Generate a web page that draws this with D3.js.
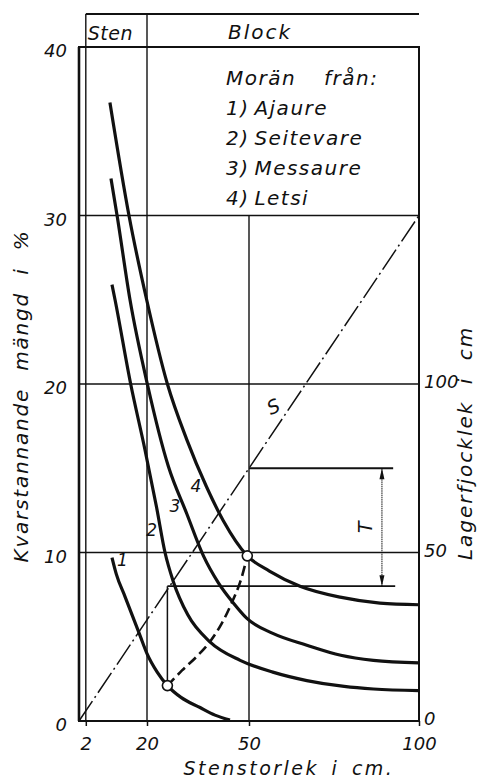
<!DOCTYPE html>
<html>
<head>
<meta charset="utf-8">
<script src="https://cdn.jsdelivr.net/npm/d3@7"></script>
<style>
  body { margin: 0; background: #fff; }
  text { font-family: "DejaVu Sans", sans-serif; font-style: oblique; fill: #111; }
</style>
</head>
<body>
<div id="chart"></div>
<script>
// curve values: [stone size cm, remaining %]
const curve1 = [[9.7,9.7],[11,8.7],[13.5,7.4],[17.9,5.1],[20,4.0],[23,2.9],[26,2.1],[30,1.4],[35.6,0.8],[40,0.35],[44.4,0.05]];
const curve2 = [[9.7,25.9],[10.6,25.0],[15.2,20],[19.4,16.1],[22.8,12.7],[25.3,10.0],[27.7,8.3],[32,6.3],[38.5,4.7],[47.4,3.6],[57,2.9],[67,2.4],[78,2.05],[86.6,1.9],[100,1.8]];
const curve3 = [[9.4,32.2],[11.2,30],[15,25],[20.1,20],[26.3,15.1],[31.7,12.3],[36.6,9.8],[41,8.2],[45.4,7.0],[49.3,6.1],[57,5.2],[67,4.5],[77,3.9],[86.6,3.6],[100,3.45]];
const curve4 = [[9.1,36.7],[14.7,30],[19.9,25.0],[26,20],[31.7,16.7],[37.5,13.9],[42.4,11.9],[49.5,9.8],[56,8.9],[65,8.0],[76.8,7.35],[88.5,7.0],[100,6.9]];
const curves = [curve1, curve2, curve3, curve4];
const curveLabels = [
  {n: "1", x: 12.8, y: 9.2},
  {n: "2", x: 21.4, y: 11.0},
  {n: "3", x: 28.2, y: 12.4},
  {n: "4", x: 34.4, y: 13.6}
];
const dashed = [[26,2.1],[30.3,3.0],[34.5,3.8],[38.5,4.7],[42,5.8],[44.9,7.0],[47.5,8.3],[49.5,9.8]];
const markers = [[26,2.1],[49.5,9.8]];
const sLine = [[0,0],[100,30]];
const tLevels = [15, 8];     // T, between these levels (%)
const tStart = [50, 26];     // where the T lines leave the S line
const tEnd = [92.4, 93];
const tArrowX = 89.1;

const xTicks = [2, 20, 50, 100];
const yTicks = [0, 10, 20, 30, 40];
const yRightTicks = [0, 50, 100];
const hGrid = [10, 20, 30];
const legendLines = ["Morän från:", "1) Ajaure", "2) Seitevare", "3) Messaure", "4) Letsi"];

const W = 489, H = 782;
const svg = d3.select("#chart").append("svg")
              .attr("width", W)
              .attr("height", H);

const x = d3.scaleLinear().domain([0, 100]).range([79, 419]);
const y = d3.scaleLinear().domain([0, 40]).range([721, 47]);
const yR = d3.scaleLinear().domain([0, 200]).range([721, 47]);
const headTop = 14;

// grid
svg.selectAll("line.hgrid")
   .data(hGrid)
   .enter().append("line")
   .attr("x1", x(0)).attr("x2", x(100))
   .attr("y1", d => y(d)).attr("y2", d => y(d))
   .attr("stroke", "#111").attr("stroke-width", 1.6);

svg.append("line")   // x = 2, up into the header
   .attr("x1", x(2)).attr("x2", x(2))
   .attr("y1", y(0)).attr("y2", headTop)
   .attr("stroke", "#111").attr("stroke-width", 1.4);
svg.append("line")   // x = 20, splits Sten / Block
   .attr("x1", x(20)).attr("x2", x(20))
   .attr("y1", y(0)).attr("y2", headTop)
   .attr("stroke", "#111").attr("stroke-width", 1.4);
svg.append("line")
   .attr("x1", x(50)).attr("x2", x(50))
   .attr("y1", y(0)).attr("y2", y(30))
   .attr("stroke", "#111").attr("stroke-width", 1.4);

// header top line
svg.append("line")
   .attr("x1", x(2)).attr("x2", x(100))
   .attr("y1", headTop).attr("y2", headTop)
   .attr("stroke", "#111").attr("stroke-width", 1.8);

// frame
svg.append("rect")
   .attr("x", x(0)).attr("y", y(40))
   .attr("width", x(100) - x(0)).attr("height", y(0) - y(40))
   .attr("fill", "none").attr("stroke", "#111").attr("stroke-width", 2);
svg.append("line")
   .attr("x1", x(0)).attr("x2", x(0))
   .attr("y1", y(0)).attr("y2", y(40))
   .attr("stroke", "#111").attr("stroke-width", 2.6);

// axes
const axisFont = g => g.selectAll("text")
                       .style("font-size", "18px")
                       .style("font-family", "DejaVu Sans")
                       .style("font-style", "oblique")
                       .attr("fill", "#111");

svg.append("g")
   .attr("transform", `translate(0, ${y(0)})`)
   .call(d3.axisBottom(x).tickValues(xTicks).tickSize(5).tickPadding(11).tickFormat(d3.format("d")))
   .call(g => g.select(".domain").remove())
   .call(g => g.selectAll("line").attr("stroke", "#111").attr("stroke-width", 1.5))
   .call(axisFont);

svg.append("g")
   .attr("transform", `translate(${x(0)}, 0)`)
   .call(d3.axisLeft(y).tickValues(yTicks).tickSize(0).tickPadding(12).tickFormat(d3.format("d")))
   .call(g => g.select(".domain").remove())
   .call(g => g.selectAll("text").attr("dy", "0.55em"))
   .call(axisFont);

svg.append("g")
   .attr("transform", `translate(${x(100)}, 0)`)
   .call(d3.axisRight(yR).tickValues(yRightTicks).tickSize(0).tickPadding(5).tickFormat(d3.format("d")))
   .call(g => g.select(".domain").remove())
   .call(g => g.selectAll("text").attr("dy", "0.2em"))
   .call(axisFont);

// header text
svg.append("text").attr("x", x(2) + 2).attr("y", 40)
   .style("font-size", "19px").attr("letter-spacing", "0.5px").text("Sten");
svg.append("text").attr("x", 228).attr("y", 39)
   .style("font-size", "20px").attr("letter-spacing", "2px").text("Block");

// legend
svg.selectAll("text.legend")
   .data(legendLines)
   .enter().append("text")
   .attr("class", "legend")
   .attr("x", 226)
   .attr("y", (d, i) => 85 + i * 30)
   .style("font-size", "20px")
   .attr("letter-spacing", "1.5px")
   .attr("word-spacing", (d, i) => i === 0 ? "20px" : "-3px")
   .text(d => d);

// S line and T construction
const line = d3.line().x(d => x(d[0])).y(d => y(d[1]));
svg.append("path")
   .datum(sLine)
   .attr("d", line)
   .attr("fill", "none").attr("stroke", "#111").attr("stroke-width", 1.5)
   .attr("stroke-dasharray", "24,4,2,4");
svg.append("text")
   .attr("transform", `translate(${x(58)}, ${y(18.3)}) rotate(-25)`)
   .attr("text-anchor", "middle")
   .style("font-size", "19px").text("S");

svg.selectAll("line.tlevel")
   .data(tLevels)
   .enter().append("line")
   .attr("x1", (d, i) => x(tStart[i])).attr("x2", (d, i) => x(tEnd[i]))
   .attr("y1", d => y(d)).attr("y2", d => y(d))
   .attr("stroke", "#111").attr("stroke-width", 1.8);

svg.append("line")   // riser from marker up to the S line
   .attr("x1", x(markers[0][0])).attr("x2", x(markers[0][0]))
   .attr("y1", y(markers[0][1])).attr("y2", y(tLevels[1]))
   .attr("stroke", "#111").attr("stroke-width", 1.5);

svg.append("line")
   .attr("x1", x(tArrowX)).attr("x2", x(tArrowX))
   .attr("y1", y(tLevels[0])).attr("y2", y(tLevels[1]))
   .attr("stroke", "#111").attr("stroke-width", 1)
   .attr("stroke-dasharray", "1.5,0.7");
const ax = x(tArrowX);
svg.selectAll("path.arrow")
   .data(tLevels)
   .enter().append("path")
   .attr("d", (d, i) => {
       const tip = y(d), s = i === 0 ? 1 : -1;
       return `M${ax},${tip} L${ax - 2.5},${tip + s * 11} L${ax + 2.5},${tip + s * 11} Z`;
   })
   .attr("fill", "#111");
svg.append("text")
   .attr("transform", `translate(${x(tArrowX) - 10}, ${y((tLevels[0] + tLevels[1]) / 2)}) rotate(-90)`)
   .attr("text-anchor", "middle")
   .style("font-size", "19px").text("T");

// curves
const smooth = d3.line().x(d => x(d[0])).y(d => y(d[1])).curve(d3.curveMonotoneX);
svg.selectAll("path.curve")
   .data(curves)
   .enter().append("path")
   .attr("class", "curve")
   .attr("d", smooth)
   .attr("fill", "none").attr("stroke", "#111").attr("stroke-width", 3.2);

svg.append("path")
   .datum(dashed)
   .attr("d", d3.line().x(d => x(d[0])).y(d => y(d[1])).curve(d3.curveCatmullRom))
   .attr("fill", "none").attr("stroke", "#111").attr("stroke-width", 2.6)
   .attr("stroke-dasharray", "10,5");

svg.selectAll("circle.mark")
   .data(markers)
   .enter().append("circle")
   .attr("cx", d => x(d[0])).attr("cy", d => y(d[1]))
   .attr("r", 5)
   .attr("fill", "#fff").attr("stroke", "#111").attr("stroke-width", 1.6);

svg.selectAll("text.clabel")
   .data(curveLabels)
   .enter().append("text")
   .attr("x", d => x(d.x)).attr("y", d => y(d.y))
   .attr("text-anchor", "middle")
   .style("font-size", "17px")
   .text(d => d.n);

// axis titles
svg.append("text")
   .attr("x", 289).attr("y", 775)
   .attr("text-anchor", "middle")
   .attr("letter-spacing", "2.5px")
   .attr("word-spacing", "4px")
   .style("font-size", "19px")
   .text("Stenstorlek i cm.");
svg.append("text")
   .attr("transform", `translate(28, 396) rotate(-90)`)
   .attr("text-anchor", "middle")
   .attr("letter-spacing", "1.8px")
   .attr("word-spacing", "9px")
   .style("font-size", "20px")
   .text("Kvarstannande mängd i %");
svg.append("text")
   .attr("transform", `translate(472, 443) rotate(-90)`)
   .attr("text-anchor", "middle")
   .attr("letter-spacing", "2px")
   .attr("word-spacing", "8px")
   .style("font-size", "20px")
   .text("Lagerfjocklek i cm");
</script>
</body>
</html>
